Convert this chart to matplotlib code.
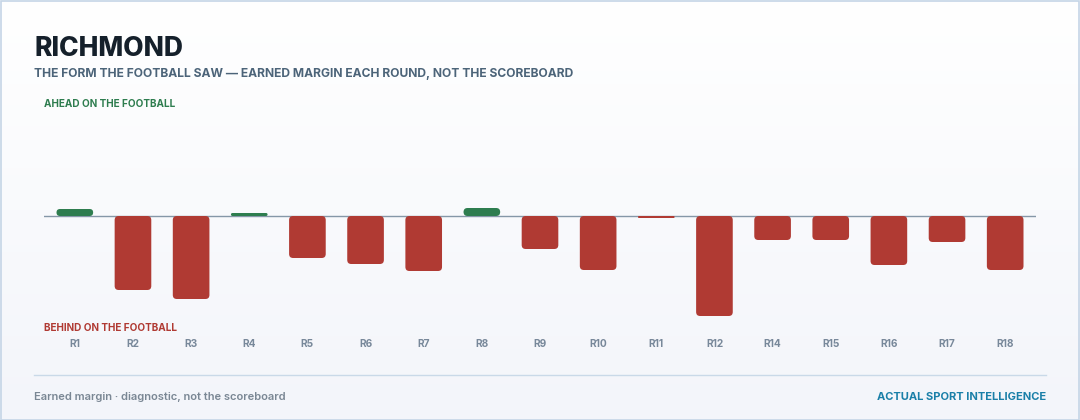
import numpy as np
import matplotlib
matplotlib.use("Agg")
import matplotlib.pyplot as plt
from matplotlib.patches import FancyBboxPatch, Rectangle

plt.rcParams['font.family'] = ['Inter', 'DejaVu Sans']

rounds = ["R1", "R2", "R3", "R4", "R5", "R6", "R7", "R8", "R9",
          "R10", "R11", "R12", "R14", "R15", "R16", "R17", "R18"]
margin = [2.8, -29.6, -33.2, 1.2, -16.8, -19.2, -22.0, 3.2, -13.2,
          -21.6, -0.8, -40.0, -9.6, -9.6, -19.6, -10.4, -21.6]

GREEN = "#2e7d4f"
RED = "#b03a33"

W, H = 1080, 420
fig = plt.figure(figsize=(W / 100, H / 100), dpi=100)

# background gradient
bg = fig.add_axes([0, 0, 1, 1], zorder=-5)
grad = np.linspace(0, 1, 256).reshape(-1, 1)
c_top = np.array([1.0, 1.0, 1.0])
c_bot = np.array([0xf3, 0xf5, 0xfa]) / 255
img = c_top + (c_bot - c_top) * grad[:, :, None]
bg.imshow(img, aspect='auto', extent=[0, 1, 0, 1], origin='upper')
bg.set_xlim(0, 1); bg.set_ylim(0, 1)
bg.axis('off')
bg.add_patch(Rectangle((0.0005, 0.001), 0.999, 0.997, fill=False,
                       edgecolor="#c5d5e6", linewidth=1.2))

# main axes
left, right = 44, 1036
top, bottom = 110, 322
ax = fig.add_axes([left / W, 1 - bottom / H, (right - left) / W, (bottom - top) / H])
ax.patch.set_alpha(0)
x = np.arange(len(rounds))
ax.set_xlim(-0.53, len(rounds) - 1 + 0.53)
ax.set_ylim(-42.4, 42.4)

bars = ax.bar(x, margin, width=0.63, color=[GREEN if m > 0 else RED for m in margin])
x_per_px = (ax.get_xlim()[1] - ax.get_xlim()[0]) / (right - left)
y_per_px = (ax.get_ylim()[1] - ax.get_ylim()[0]) / (bottom - top)
aspect = y_per_px / x_per_px
for b in bars:
    bx, by = b.get_x(), b.get_y()
    bw, bh = b.get_width(), b.get_height()
    if bh < 0:
        by, bh = by + bh, -bh
    h_px = bh / y_per_px
    r_px = min(4.0, h_px / 2)
    patch = FancyBboxPatch((bx, by), bw, bh,
                           boxstyle=f"round,pad=0,rounding_size={r_px * x_per_px}",
                           mutation_aspect=aspect,
                           facecolor=b.get_facecolor(), edgecolor="none", zorder=3)
    ax.add_patch(patch)
    b.set_visible(False)

ax.axhline(0, color="#8597a8", linewidth=1.0, zorder=2)

for s in ax.spines.values():
    s.set_visible(False)
ax.set_yticks([])
ax.set_xticks(x)
ax.set_xticklabels(rounds, fontsize=7.3, fontweight='bold', color="#78889a")
ax.tick_params(axis='x', length=0, pad=12)

# texts
fig.text(34 / W, 1 - 56 / H, "RICHMOND", fontsize=19, fontweight='heavy',
         color="#15202b", va='baseline', ha='left')
fig.text(34 / W, 1 - 77 / H,
         "THE FORM THE FOOTBALL SAW \u2014 EARNED MARGIN EACH ROUND, NOT THE SCOREBOARD",
         fontsize=8.7, fontweight='bold', color="#4c6479", va='baseline', ha='left')
fig.text(44 / W, 1 - 104 / H, "AHEAD ON THE FOOTBALL", fontsize=7.2,
         fontweight='bold', color=GREEN, va='center', ha='left')
fig.text(44 / W, 1 - 328 / H, "BEHIND ON THE FOOTBALL", fontsize=7.2,
         fontweight='bold', color=RED, va='center', ha='left')

bg.plot([34 / W, 1046 / W], [1 - 375 / H, 1 - 375 / H], color="#c9d9e8", linewidth=1)
fig.text(34 / W, 1 - 397 / H, "Earned margin \u00b7 diagnostic, not the scoreboard",
         fontsize=8, fontweight='semibold', color="#7a8794", va='center', ha='left')
fig.text(1046 / W, 1 - 397 / H, "ACTUAL SPORT INTELLIGENCE", fontsize=8,
         fontweight='bold', color="#1a7fa8", va='center', ha='right')

fig.savefig("out.png", dpi=100)
